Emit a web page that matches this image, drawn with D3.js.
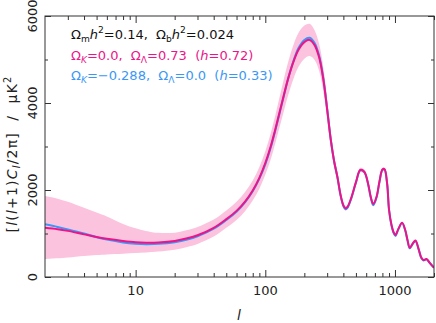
<!DOCTYPE html>
<html>
<head>
<meta charset="utf-8">
<script src="https://cdn.jsdelivr.net/npm/d3@7"></script>
<style>
  body { margin: 0; background: #fff; }
  svg { font-family: "DejaVu Sans", sans-serif; }
</style>
</head>
<body>
<svg id="chart" width="436" height="323"></svg>
<script>
// multipoles sampled along the curves
const ells = [2, 2.5, 3, 4, 5, 6, 8, 10, 12, 15, 20, 25, 30, 40, 50, 60, 70, 80, 90, 100,
  110, 120, 135, 150, 165, 180, 200, 220, 240, 260, 280, 300, 320, 340, 360, 380, 400, 415,
  430, 460, 500, 540, 580, 620, 650, 680, 720, 760, 800, 830, 870, 900, 940, 980, 1010, 1060,
  1135, 1200, 1250, 1300, 1370, 1440, 1520, 1600, 1660, 1750, 1850, 2000];
// flat model (Omega_K=0, Omega_L=0.73)
const flatCl = [1133, 1100, 1060, 980, 920, 880, 830, 800, 790, 795, 830, 890, 960, 1130, 1330, 1520, 1740, 1990, 2280, 2620,
  3000, 3420, 4030, 4560, 4950, 5220, 5400, 5450, 5330, 5050, 4550, 3850, 3150, 2650, 2300, 1900, 1650, 1580,
  1610, 1820, 2180, 2460, 2420, 2150, 1850, 1680, 1840, 2200, 2470, 2480, 2150, 1550, 1200, 1020, 966, 1100,
  1250, 1080, 850, 674, 770, 840, 650, 440, 390, 414, 330, 215];
// closed model (Omega_K=-0.288, Omega_L=0)
const closedCl = [1211, 1150, 1095, 1000, 915, 860, 795, 765, 755, 762, 800, 860, 935, 1110, 1310, 1500, 1720, 1970, 2260, 2590,
  2970, 3390, 4010, 4560, 4970, 5260, 5450, 5500, 5380, 5090, 4580, 3870, 3160, 2650, 2290, 1880, 1630, 1555,
  1590, 1800, 2170, 2450, 2410, 2140, 1830, 1650, 1820, 2190, 2460, 2470, 2140, 1540, 1185, 1000, 945, 1090,
  1240, 1070, 835, 660, 760, 830, 640, 430, 380, 405, 325, 210];
// cosmic variance band around the flat model
const bandLo = [414, 430, 450, 485, 505, 520, 535, 550, 565, 585, 625, 690, 760, 930, 1130, 1310, 1520, 1760, 2030, 2350,
  2700, 3100, 3670, 4180, 4560, 4830, 5020, 5080, 4990, 4740, 4270, 3620, 2970, 2510, 2190, 1810, 1590, 1530,
  1570, 1780, 2130, 2410, 2370, 2110, 1820, 1650, 1810, 2160, 2430, 2440, 2120, 1530, 1185, 1005, 952, 1085,
  1232, 1065, 838, 664, 760, 828, 641, 434, 385, 408, 325, 212];
const bandHi = [1860, 1800, 1730, 1590, 1480, 1390, 1220, 1120, 1060, 1015, 1020, 1080, 1150, 1320, 1530, 1730, 1960, 2220, 2530, 2890,
  3300, 3740, 4390, 4940, 5340, 5610, 5780, 5820, 5670, 5360, 4830, 4080, 3330, 2790, 2410, 1990, 1710, 1630,
  1650, 1860, 2230, 2510, 2470, 2190, 1880, 1710, 1870, 2240, 2510, 2520, 2180, 1570, 1215, 1035, 980, 1115,
  1268, 1095, 862, 684, 780, 852, 659, 446, 395, 420, 335, 218];

const xMajor = [10, 100, 1000];
const xMinor = [3, 4, 5, 6, 7, 8, 9, 20, 30, 40, 50, 60, 70, 80, 90, 200, 300, 400, 500, 600, 700, 800, 900, 2000];
const yMajor = [0, 2000, 4000, 6000];
const yMinor = [1000, 3000, 5000];

const pink = "#ec1489";
const blue = "#3a97f5";

const svg = d3.select("#chart");
const mLeft = 45, mRight = 434, mTop = 16, mBottom = 277;

const x = d3.scaleLog().domain([2, 2000]).range([mLeft, mRight]);
const y = d3.scaleLinear().domain([0, 6000]).range([mBottom, mTop]);

const rows = ells.map((l, i) => ({ l, flat: flatCl[i], closed: closedCl[i], lo: bandLo[i], hi: bandHi[i] }));

svg.append("clipPath").attr("id", "clip")
  .append("rect").attr("x", mLeft).attr("y", mTop).attr("width", mRight - mLeft).attr("height", mBottom - mTop);
const g = svg.append("g").attr("clip-path", "url(#clip)");

const band = d3.area()
  .x(d => x(d.l)).y0(d => y(d.lo)).y1(d => y(d.hi))
  .curve(d3.curveCatmullRom);
g.append("path").attr("d", band(rows)).attr("fill", "#fcc3df");

const lineOf = key => d3.line().x(d => x(d.l)).y(d => y(d[key])).curve(d3.curveCatmullRom);
g.append("path").attr("d", lineOf("closed")(rows))
  .attr("fill", "none").attr("stroke", blue).attr("stroke-width", 2);
g.append("path").attr("d", lineOf("flat")(rows))
  .attr("fill", "none").attr("stroke", pink).attr("stroke-width", 2);

// axes: ticks point inwards on all four sides
const axisCol = "#333";
function addAxis(axis, tr) {
  const a = svg.append("g").attr("transform", tr).call(axis);
  a.select(".domain").remove();
  a.selectAll("line").attr("stroke", axisCol);
  a.selectAll("text").remove();
  return a;
}
addAxis(d3.axisBottom(x).tickValues(xMajor).tickSize(-7), `translate(0,${mBottom})`);
addAxis(d3.axisBottom(x).tickValues(xMinor).tickSize(-4), `translate(0,${mBottom})`);
addAxis(d3.axisTop(x).tickValues(xMajor).tickSize(-7), `translate(0,${mTop})`);
addAxis(d3.axisTop(x).tickValues(xMinor).tickSize(-4), `translate(0,${mTop})`);
addAxis(d3.axisLeft(y).tickValues(yMajor).tickSize(-6), `translate(${mLeft},0)`);
addAxis(d3.axisLeft(y).tickValues(yMinor).tickSize(-3), `translate(${mLeft},0)`);
addAxis(d3.axisRight(y).tickValues(yMajor).tickSize(-6), `translate(${mRight},0)`);
addAxis(d3.axisRight(y).tickValues(yMinor).tickSize(-3), `translate(${mRight},0)`);

svg.append("rect").attr("x", mLeft).attr("y", mTop)
  .attr("width", mRight - mLeft).attr("height", mBottom - mTop)
  .attr("fill", "none").attr("stroke", axisCol).attr("stroke-width", 1);

svg.selectAll(".xlab").data(xMajor).join("text")
  .attr("x", d => x(d)).attr("y", 295)
  .attr("text-anchor", "middle").attr("font-size", 13).attr("fill", "#222")
  .text(d => d);

svg.selectAll(".ylab").data(yMajor).join("text")
  .attr("transform", d => `translate(37,${y(d)}) rotate(-90)`)
  .attr("text-anchor", "middle").attr("font-size", 13).attr("fill", "#222")
  .text(d => d);

// rich text helper: parts are [text, kind]; baseline shifts carried to the next part
function rich(sel, parts, size) {
  let back = 0;
  parts.forEach(([t, kind]) => {
    const s = sel.append("tspan").text(t);
    let dy = back;
    back = 0;
    if (kind === "i") s.attr("font-style", "italic");
    if (kind === "sub" || kind === "isub") {
      s.attr("font-size", size * 0.7);
      if (kind === "isub") s.attr("font-style", "italic");
      dy += 3; back = -3;
    }
    if (kind === "sup") {
      s.attr("font-size", size * 0.7);
      dy -= 6; back = 6;
    }
    if (dy) s.attr("dy", dy);
  });
}

const legend = [
  { col: "#111", parts: [["Ω"], ["m", "sub"], ["h", "i"], ["2", "sup"], ["=0.14,  Ω"], ["b", "sub"], ["h", "i"], ["2", "sup"], ["=0.024"]] },
  { col: pink, parts: [["Ω"], ["K", "isub"], ["=0.0,  Ω"], ["Λ", "sub"], ["=0.73  ("], ["h", "i"], ["=0.72)"]] },
  { col: blue, parts: [["Ω"], ["K", "isub"], ["=−0.288,  Ω"], ["Λ", "sub"], ["=0.0  ("], ["h", "i"], ["=0.33)"]] }
];
legend.forEach((row, i) => {
  const t = svg.append("text").attr("x", 71).attr("y", 39 + i * 20.5)
    .attr("font-size", 13).attr("fill", row.col)
    .style("white-space", "pre");
  rich(t, row.parts, 13);
});

svg.append("text").attr("x", 239).attr("y", 320)
  .attr("text-anchor", "middle").attr("font-size", 14).attr("font-style", "italic")
  .attr("fill", "#222").text("l");

const ylab = svg.append("text")
  .attr("transform", `translate(17,154) rotate(-90)`)
  .attr("text-anchor", "middle").attr("font-size", 14).attr("fill", "#222")
  .attr("letter-spacing", 1.2)
  .style("white-space", "pre");
rich(ylab, [["["], ["l", "i"], ["("], ["l", "i"], ["+1)"], ["C", "i"], ["l", "isub"], ["/2π]  /  μK"], ["2", "sup"]], 14);
</script>
</body>
</html>
